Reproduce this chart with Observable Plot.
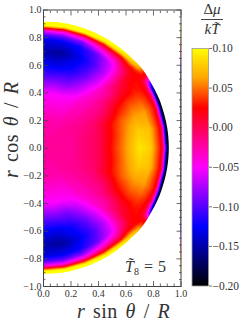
<!DOCTYPE html>
<html><head><meta charset="utf-8">
<script src="https://cdn.jsdelivr.net/npm/d3@7"></script>
<script src="https://cdn.jsdelivr.net/npm/@observablehq/plot@0.6"></script>
<style>
html,body{margin:0;padding:0;background:#fff}
#c{position:relative;width:244px;height:324px;overflow:hidden;font-family:"Liberation Serif",serif;color:#333}
#c svg{position:absolute;left:0;top:0;background:transparent}
.t{position:absolute;white-space:nowrap;line-height:1}
i{font-style:italic}
</style></head><body><div id="c"></div>
<script>
// radius values of the sampled table
const radii = [0, .2, .4, .5, .6, .7, .78, .82, .85, .87, .89, .9, .915];
// polar angle from the pole, degrees
const thetas = [0, 10, 20, 30, 40, 45, 50, 55, 60, 65, 70, 80, 90];
// surface radius at each polar angle
const surface = [.915, .915, .915, .915, .915, .915, .92, .918, .915, .915, .915, .915, .915];
const field0  = [-.02, -.025, -.05, -.09, -.125, -.15, -.135, -.10, -.05, .025, .10, .10, .10];
const field10 = [-.02, -.025, -.05, -.09, -.13, -.155, -.13, -.095, -.045, .025, .10, .10, .10];
const field20 = [-.02, -.025, -.05, -.09, -.12, -.135, -.12, -.085, -.03, .03, .10, .10, .10];
const field30 = [-.02, -.025, -.045, -.07, -.095, -.108, -.095, -.055, -.01, .03, .09, .10, .10];
const field40 = [-.02, -.022, -.03, -.04, -.055, -.065, -.055, -.03, 0, .03, .08, .09, .10];
const field45 = [-.02, -.02, -.03, -.03, -.03, -.03, -.02, 0, .02, .04, .07, .08, .09];
const field50 = [-.02, -.02, -.02, -.02, -.02, 0, .015, .02, .025, .03, .05, .06, .07];
const field55 = [-.02, -.02, -.018, -.015, 0, .015, .025, .028, .025, .02, .02, .015, .01];
const field60 = [-.02, -.02, -.012, -.005, .02, .033, .035, .03, .02, 0, -.06, -.11, -.14];
const field65 = [-.02, -.02, -.008, .008, .032, .048, .048, .038, .025, 0, -.08, -.16, -.2];
const field70 = [-.02, -.02, -.005, .02, .045, .06, .06, .045, .03, .005, -.09, -.18, -.2];
const field80 = [-.02, -.02, -.002, .025, .055, .08, .075, .05, .03, .005, -.1, -.18, -.2];
const field90 = [-.02, -.02, 0, .03, .06, .09, .08, .05, .03, 0, -.1, -.18, -.2];
const fieldRows = [field0, field10, field20, field30, field40, field45, field50, field55, field60, field65, field70, field80, field90];

const majorX = [0, .2, .4, .6, .8, 1];
const majorY = [-1, -.8, -.6, -.4, -.2, 0, .2, .4, .6, .8, 1];
const minorX = [.05, .1, .15, .25, .3, .35, .45, .5, .55, .65, .7, .75, .85, .9, .95];
const minorY = [-.95, -.9, -.85, -.75, -.7, -.65, -.55, -.5, -.45, -.35, -.3, -.25, -.15, -.1, -.05, .05, .1, .15, .25, .3, .35, .45, .5, .55, .65, .7, .75, .85, .9, .95];
const barTicks = [-.2, -.15, -.1, -.05, 0, .05, .1];
const colorDomain = [-.2, -.125, -.05, .025, .0625, .1];
const colorRange = ["#000000", "#0000ff", "#ff00ff", "#ff0000", "#ffa500", "#ffff00"];

const color = {type: "linear", domain: colorDomain, range: colorRange, interpolate: "rgb", clamp: true};
const cells = [];
thetas.forEach((t, i) => radii.forEach((r, j) => {
  if (r === 0 && t !== 90) return;
  const a = t * Math.PI / 180;
  cells.push({x: r * Math.sin(a), y: r * Math.cos(a), v: fieldRows[i][j]});
  if (t !== 90) cells.push({x: r * Math.sin(a), y: -r * Math.cos(a), v: fieldRows[i][j]});
}));
const edge = [];
thetas.forEach((t, i) => {
  const a = t * Math.PI / 180;
  edge.push({x: surface[i] * Math.sin(a), y: surface[i] * Math.cos(a)});
});
[...thetas].reverse().slice(1).forEach(t => {
  const i = thetas.indexOf(t), a = t * Math.PI / 180;
  edge.push({x: surface[i] * Math.sin(a), y: -surface[i] * Math.cos(a)});
});
const topY = edge[0].y;
const ink = "#444";
const fmt = d => d3.format(".1f")(d).replace("-", "\u2212");
const fmt2 = d => d3.format(".2f")(d).replace("-", "\u2212");
const font = {fontSize: 10, fontFamily: "Liberation Serif, serif"};
const tickSets = (axis, anchor, vals, size) => axis({anchor, ticks: vals, tickSize: size, text: null, label: null, stroke: ink, strokeWidth: .8});

const main = Plot.plot({
  width: 244, height: 324,
  marginLeft: 43, marginRight: 63.5, marginTop: 9.5, marginBottom: 38,
  x: {domain: [0, 1]}, y: {domain: [-1, 1]},
  color,
  style: {background: "transparent", ...font},
  marks: [
    Plot.raster(cells, {x: "x", y: "y", fill: "v", interpolate: "barycentric"}),
    // white outside the star's surface
    Plot.areaX(edge, {x1: "x", x2: () => 1, y: "y", fill: "white", curve: "catmull-rom"}),
    Plot.rectY([0], {x1: 0, x2: 1, y1: topY, y2: 1, fill: "white", stroke: "white", strokeWidth: 1}),
    Plot.rectY([0], {x1: 0, x2: 1, y1: -1, y2: -topY, fill: "white", stroke: "white", strokeWidth: 1}),
    tickSets(Plot.axisX, "bottom", majorX, -5),
    tickSets(Plot.axisX, "bottom", minorX, -2.5),
    tickSets(Plot.axisX, "top", majorX, -5),
    tickSets(Plot.axisX, "top", minorX, -2.5),
    tickSets(Plot.axisY, "left", majorY, -5),
    tickSets(Plot.axisY, "left", minorY, -2.5),
    tickSets(Plot.axisY, "right", majorY, -5),
    tickSets(Plot.axisY, "right", minorY, -2.5),
    Plot.axisX({anchor: "bottom", ticks: majorX, tickSize: 0, tickPadding: 3, tickFormat: fmt, label: null, fill: "#333"}),
    Plot.axisY({anchor: "left", ticks: majorY, tickSize: 0, tickPadding: 2, tickFormat: fmt, label: null, fill: "#333"}),
    Plot.frame({stroke: ink, strokeWidth: 1})
  ]
});
const bar = Plot.plot({
  width: 244, height: 324,
  marginLeft: 191.5, marginRight: 36, marginTop: 48, marginBottom: 38.5,
  x: {domain: [0, 1], axis: null}, y: {domain: [-.2, .1]},
  color,
  style: {background: "transparent", fontSize: 11.5, fontFamily: "Liberation Serif, serif"},
  marks: [
    Plot.raster({fill: (x, y) => y, x1: 0, x2: 1, y1: -.2, y2: .1}),
    Plot.axisY({anchor: "right", ticks: barTicks, tickSize: 3, tickPadding: 1, tickFormat: fmt2, label: null, stroke: "#777", fill: "#333"}),
    Plot.frame({stroke: "#999", strokeWidth: .8})
  ]
});
const c = document.getElementById("c");
c.append(main, bar);
const add = (html, css) => {
  const d = document.createElement("div");
  d.className = "t"; d.innerHTML = html; d.style.cssText = css; c.append(d);
};
const lab = 'font-size:20px;word-spacing:2.5px;letter-spacing:.4px;';
add('<i>r</i> sin <i>\u03b8</i> / <i>R</i>', 'left:77px;top:301px;' + lab);
add('<i>r</i> cos <i>\u03b8</i> / <i>R</i>', 'left:1px;top:178px;transform-origin:0 0;transform:rotate(-90deg);' + lab);
add('\u0394<i>\u03bc</i>', 'left:201px;top:2px;width:22px;text-align:center;font-size:15px;');
add('', 'left:201px;top:19px;width:22px;height:0;border-top:1px solid #444;');
add('<i>kT\u0303</i>', 'left:201px;top:22px;width:22px;text-align:center;font-size:15px;');
add('<i>T\u0303</i><span style="font-size:10px;position:relative;top:3px">8</span> = 5', 'left:125px;top:259px;font-size:16px;word-spacing:1px');
</script></body></html>
